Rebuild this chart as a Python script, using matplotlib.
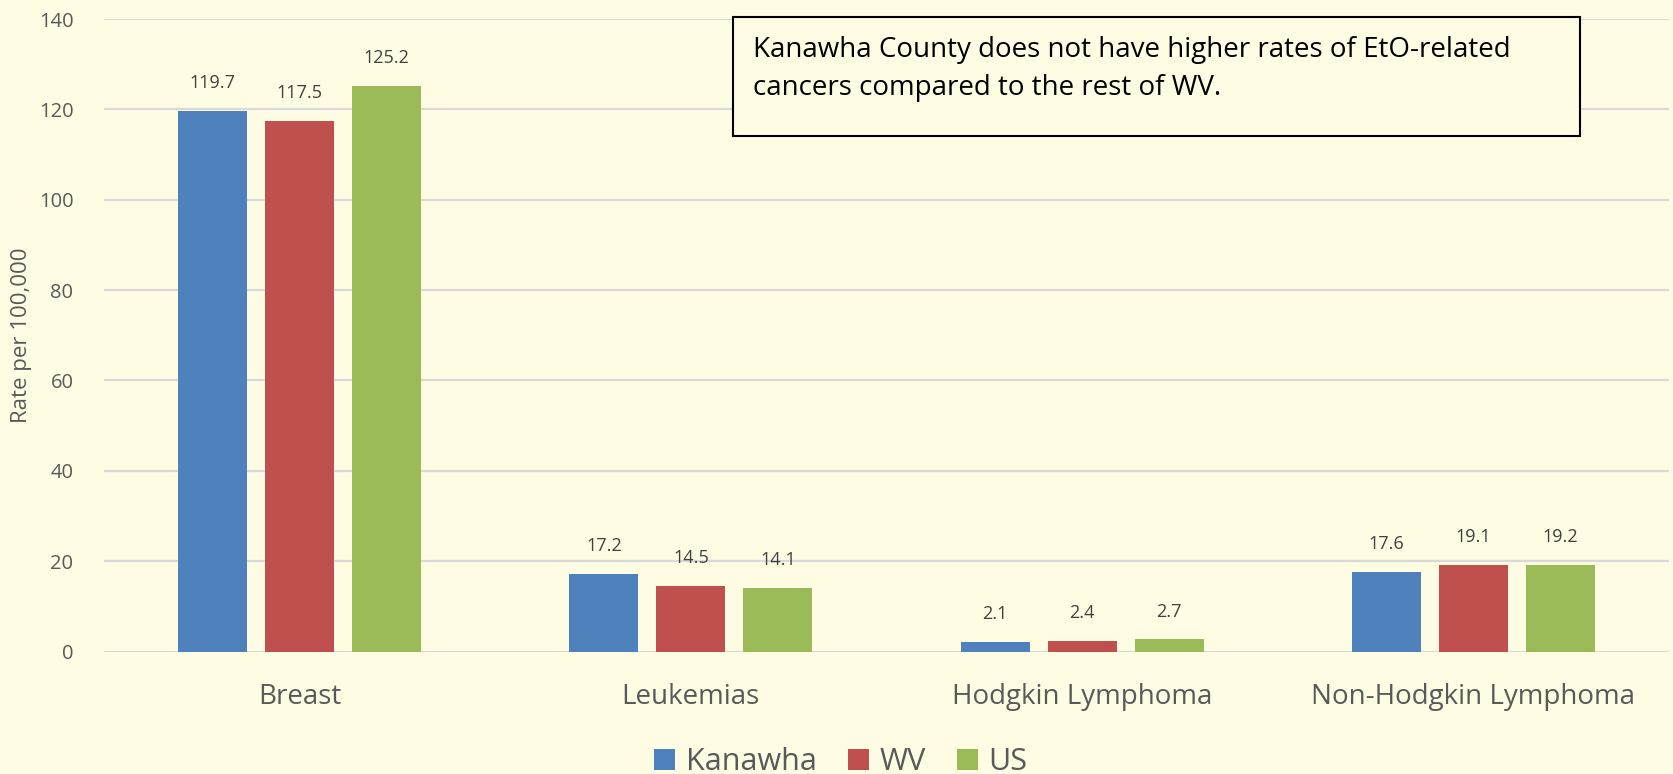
import numpy as np
import matplotlib.pyplot as plt
from matplotlib.patches import Patch, Rectangle

# Data
categories = ['Breast', 'Leukemias', 'Hodgkin Lymphoma', 'Non-Hodgkin Lymphoma']
kanawha = [119.7, 17.2, 2.1, 17.6]
wv = [117.5, 14.5, 2.4, 19.1]
us = [125.2, 14.1, 2.7, 19.2]
series_names = ['Kanawha', 'WV', 'US']
colors = ['#4F81BD', '#C0504D', '#9BBB59']
yticks = [0, 20, 40, 60, 80, 100, 120, 140]
note = 'Kanawha County does not have higher rates of EtO-related\ncancers compared to the rest of WV.'

bg = '#FEFDE3'
txt = '#595959'
plt.rcParams['font.family'] = ['Open Sans', 'DejaVu Sans']

fig = plt.figure(figsize=(16.74, 7.74), dpi=100, facecolor=bg)
ax = fig.add_axes([104 / 1674, 1 - 651.5 / 774, (1669 - 104) / 1674, 632.5 / 774])
ax.set_facecolor(bg)

x = np.arange(len(categories))
width = 0.176
step = 0.2225
for i, (vals, name, c) in enumerate(zip([kanawha, wv, us], series_names, colors)):
    bars = ax.bar(x + (i - 1) * step, vals, width, color=c, label=name, zorder=3)
    for b, v in zip(bars, vals):
        ax.annotate(f'{v:.1f}', (b.get_x() + b.get_width() / 2, v),
                    xytext=(0, 13.5), textcoords='offset points',
                    ha='center', va='bottom', fontsize=13, color='#404040')

ax.set_xlim(-0.5, len(categories) - 0.5)
ax.set_ylim(0, 140)
ax.set_yticks(yticks)
ax.set_xticks(x)
ax.set_xticklabels(categories)
ax.tick_params(axis='x', length=0, pad=23, labelsize=20, labelcolor=txt)
ax.tick_params(axis='y', length=0, pad=22, labelsize=14.5, labelcolor=txt)
ax.grid(axis='y', color='#D9D9D9', linewidth=1.6, zorder=0)
for s in ax.spines.values():
    s.set_visible(False)
ax.set_ylabel('Rate per 100,000', fontsize=16, color=txt, labelpad=5)

# note box
fig.add_artist(Rectangle((733 / 1674, 1 - 136 / 774), (1580 - 733) / 1674, (136 - 17) / 774,
                         transform=fig.transFigure, facecolor=bg, edgecolor='black',
                         linewidth=1.5, zorder=5))
fig.text(753 / 1674, 1 - 36 / 774, note, fontsize=20, color='black', va='top', ha='left',
         linespacing=1.47, zorder=6)

handles = [Patch(facecolor=c) for c in colors]
fig.legend(handles, series_names, loc='center', bbox_to_anchor=(841 / 1674, 12 / 774),
           ncol=3, frameon=False, fontsize=22, labelcolor=txt,
           handlelength=0.69, handleheight=0.69, handletextpad=0.36, columnspacing=1.0)

fig.savefig('out.png', dpi=100, facecolor=bg)
